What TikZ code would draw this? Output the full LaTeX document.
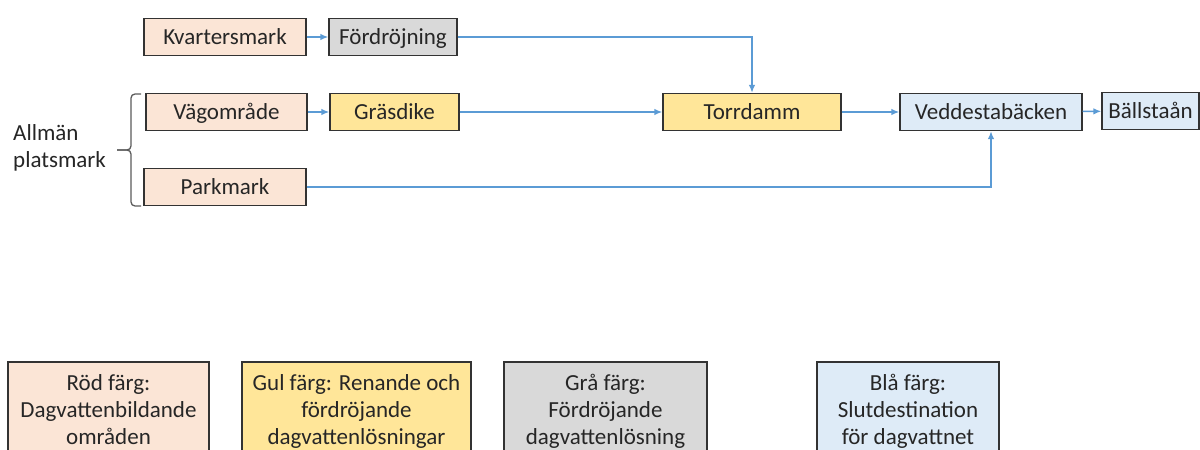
\documentclass[tikz,border=0pt]{standalone}
\usepackage{fontspec}
\setmainfont{Carlito}
\usetikzlibrary{arrows.meta}
\definecolor{redf}{HTML}{FBE5D6}
\definecolor{yelf}{HTML}{FFE699}
\definecolor{grayf}{HTML}{D9D9D9}
\definecolor{bluef}{HTML}{DEEBF7}
\definecolor{boxline}{HTML}{333333}
\definecolor{flowc}{HTML}{5B9BD5}
\definecolor{textc}{HTML}{262626}
\begin{document}
\begin{tikzpicture}[x=1pt,y=-1pt,
  box/.style={draw=boxline, line width=1.3pt, inner sep=0pt, minimum height=37pt,
    text height=16pt, text depth=2pt, text=textc, font=\fontsize{23}{27}\selectfont},
  legend/.style={draw=boxline, line width=1.3pt, inner sep=0pt, minimum height=99.2pt,
    align=center, text=textc, font=\fontsize{23}{27}\selectfont},
  flow/.style={draw=flowc, line width=1.5pt, -{Latex[length=8pt,width=6.5pt]}},
  bracestyle/.style={draw=boxline!80, line width=1.3pt, rounded corners=4pt},
]
\clip (0,0) rectangle (1200,450);
\useasboundingbox (0,0) rectangle (1200,450);
\fill[white] (0,0) rectangle (1200,450);

% flow nodes
\node[box, fill=redf, minimum width=162pt] (kv) at (225,37) {Kvartersmark};
\node[box, fill=grayf, minimum width=128pt] (fd) at (393,37) {Fördröjning};
\node[box, fill=redf, minimum width=161pt] (vo) at (226.5,112) {Vägområde};
\node[box, fill=yelf, minimum width=129pt] (gd) at (394.5,112) {Gräsdike};
\node[box, fill=redf, minimum width=162pt] (pm) at (225,187) {Parkmark};
\node[box, fill=yelf, minimum width=178pt] (td) at (752,112) {Torrdamm};
\node[box, fill=bluef, minimum width=182pt] (vb) at (991,112) {Veddestabäcken};
\node[box, fill=bluef, minimum width=97pt] (bs) at (1150.5,111) {Bällstaån};

% label with brace
\node[inner sep=0pt, anchor=west, align=left, text=textc, font=\fontsize{23}{27}\selectfont] (am) at (13,148.1) {\strut Allmän\\platsmark\strut};
\draw[bracestyle] (141,94) -| (131,150) -- (117,150);
\draw[bracestyle] (117,150) -- (131,150) |- (141,206);

% connectors
\draw[flow] (kv) -- (fd);
\draw[flow] (fd.east) -| (td.north);
\draw[flow] (vo) -- (gd);
\draw[flow] (gd) -- (td);
\draw[flow] (td) -- (vb);
\draw[flow] (pm.east) -| (vb.south);
\draw[flow] (vb) -- (bs);

% legend
\node[legend, fill=redf, minimum width=201pt] (lr) at (108.5,411.6) {\strut Röd färg:\\Dagvattenbildande\\områden\strut};
\node[legend, fill=yelf, minimum width=229pt] (ly) at (356.5,411.6) {\strut Gul färg: Renande och\\fördröjande\\dagvattenlösningar\strut};
\node[legend, fill=grayf, minimum width=203pt] (lg) at (605.5,411.6) {\strut Grå färg:\\Fördröjande\\dagvattenlösning\strut};
\node[legend, fill=bluef, minimum width=182pt] (lb) at (908,411.6) {\strut Blå färg:\\Slutdestination\\för dagvattnet\strut};
\end{tikzpicture}
\end{document}
